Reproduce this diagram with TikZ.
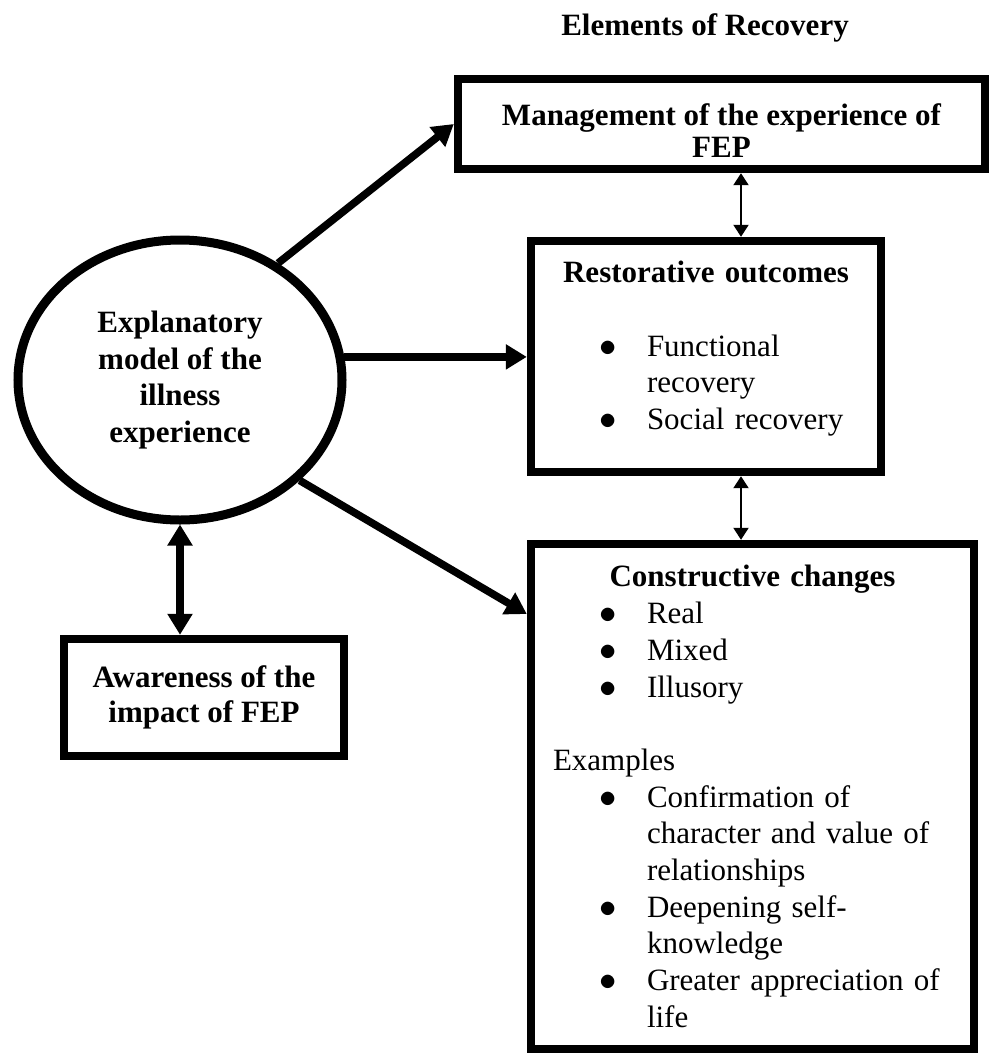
\documentclass[tikz,border=0pt]{standalone}
\usepackage{fontspec}
\setmainfont{Liberation Serif}
\usetikzlibrary{arrows.meta,shapes.geometric}
\setlength{\parindent}{0pt}
\newcommand{\fs}{\fontsize{15.5}{18.35}\selectfont}
\newcommand{\bul}[1]{\hspace*{34pt}\makebox[24pt][l]{\raisebox{0pt}[0pt][0pt]{\scalebox{1.2}{$\bullet$}}}#1}
\newcommand{\cnt}[1]{\hspace*{58pt}#1}
\newcommand{\ctr}[1]{\makebox[\hsize][c]{\textbf{#1}}}
\tikzset{
  box/.style={rectangle,draw,line width=4.2pt,inner sep=0pt},
  big/.style={line width=3.8pt,-{Triangle[width=12pt,length=10.5pt]}},
  bigboth/.style={line width=4pt,{Triangle[width=12pt,length=10.5pt]}-{Triangle[width=12pt,length=10.5pt]}},
  twoway/.style={line width=1pt,{Triangle[width=7.5pt,length=6pt]}-{Triangle[width=7.5pt,length=6pt]}}
}
\begin{document}
\begin{tikzpicture}[x=0.5pt,y=-0.5pt,font=\fs]
  \useasboundingbox (0,0) rectangle (995,1055);
  \node[anchor=base,font=\fs\bfseries] (ttl) at (705,35) {Elements of Recovery};
  \node[box,minimum width=263.5pt,minimum height=45pt,align=center,font=\fontsize{15.5}{16}\selectfont\bfseries] (mgmt) at (721.5,124) {\rule{0pt}{17pt}Management of the experience of\\FEP};
  \node[ellipse,draw,line width=4.5pt,inner sep=0pt,minimum width=162pt,minimum height=140pt,align=center,font=\fs\bfseries] (expl) at (180,380) {Explanatory\\model of the\\illness\\experience};
  \node[box,minimum width=175pt,minimum height=115.5pt,text width=175pt,align=left] (rest) at (706,356.5)
    {\ctr{Restorative outcomes}\\[18.35pt]\bul{Functional}\\\cnt{recovery}\\\bul{Social recovery}\rule[-11pt]{0pt}{1pt}};
  \node[box,minimum width=221.5pt,minimum height=252.5pt,text width=221.5pt,align=left] (cons) at (752.5,796.5)
    {\ctr{Constructive changes}\\\bul{Real}\\\bul{Mixed}\\\bul{Illusory}\\[18.35pt]
     \hspace*{11pt}Examples\\\bul{Confirmation of}\\\cnt{character and value of}\\\cnt{relationships}\\
     \bul{Deepening self-}\\\cnt{knowledge}\\\bul{Greater appreciation of}\\\cnt{life}};
  \node[box,minimum width=140.25pt,minimum height=58.5pt,align=center,font=\fontsize{15.5}{17.5}\selectfont\bfseries] (aware) at (204,697.5) {Awareness of the\\impact of FEP};
  % connectors
  \coordinate (c1) at (741,0); \coordinate (cin) at (0,614);
  \draw[big] (expl.50) -- (mgmt.west);
  \draw[big] (expl.8) -- (expl.8 -| rest.west);
  \draw[big] (expl.-40) -- (cin -| cons.west);
  \draw[bigboth] (expl.south) -- (expl.south |- aware.north);
  \draw[twoway] (c1 |- mgmt.south) -- (c1 |- rest.north);
  \draw[twoway] (c1 |- rest.south) -- (c1 |- cons.north);
\end{tikzpicture}
\end{document}
